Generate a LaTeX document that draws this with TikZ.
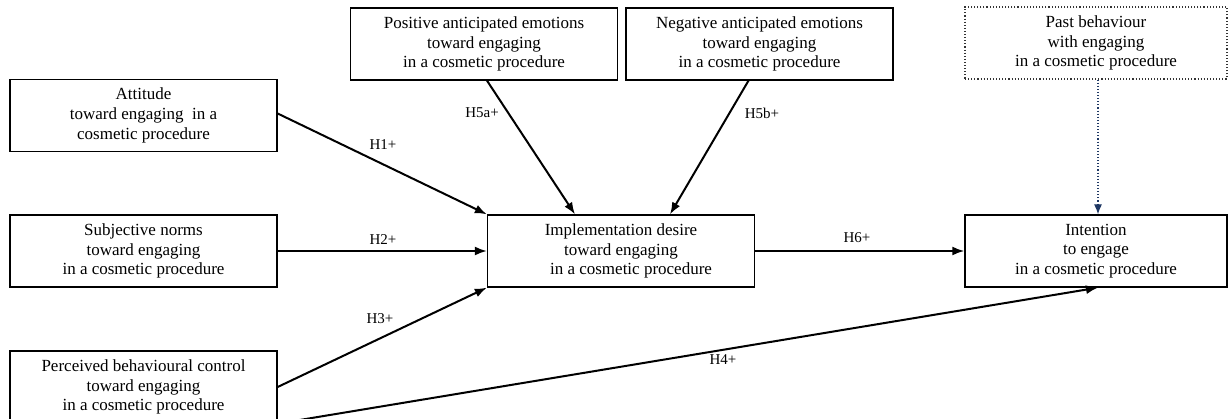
\documentclass[tikz,border=0pt]{standalone}
\usepackage{fontspec}
\setmainfont{Liberation Serif}
\usetikzlibrary{arrows.meta,calc}
\definecolor{pastblue}{HTML}{1F3864}
\begin{document}
\begin{tikzpicture}[x=1pt,y=-1pt,
  construct/.style={draw=black,line width=1.3pt,minimum width=267pt,minimum height=72pt,
    inner sep=0pt,align=center,font=\fontsize{17}{19.8}\selectfont},
  rightbox/.style={construct,minimum width=262pt},
  pastbox/.style={rightbox,draw=black!80,line width=1.1pt,dotted},
  path/.style={line width=2pt,-{Latex[length=12pt,width=9pt]}},
  hyp/.style={font=\fontsize{15}{16}\selectfont,inner sep=0pt}]
\useasboundingbox (0,0) rectangle (1229,419);
\clip (0,0) rectangle (1229,419);

% constructs
\node[construct] (att) at (143.5,115.5) {Attitude\\toward engaging\ \ in a\\cosmetic procedure};
\node[construct] (subj) at (143.5,251) {Subjective norms\\toward engaging\\in a cosmetic procedure};
\node[construct] (pbc) at (143.5,387) {Perceived behavioural control\\toward engaging\\in a cosmetic procedure};
\node[construct] (pos) at (484,44) {Positive anticipated emotions\\toward engaging\\in a cosmetic procedure};
\node[construct] (neg) at (759.5,44) {Negative anticipated emotions\\toward engaging\\in a cosmetic procedure};
\node[pastbox] (past) at (1096,43) {Past behaviour\\with engaging\\in a cosmetic procedure};
\node[construct] (imp) at (621,251) {Implementation desire\\toward engaging\\\hspace*{20pt}in a cosmetic procedure};
\node[rightbox] (int) at (1096,251) {Intention\\to engage\\in a cosmetic procedure};

% hypothesised paths
\draw[path] ($(att.east)+(0,-2)$) -- (imp.north west);
\draw[path] (subj.east) -- (imp.west);
\draw[path] (pbc.east) -- (imp.south west);
\draw[path] (pbc.south east) -- ($(int.south)+(2,0)$);
\draw[path] ($(pos.south)+(3,0)$) -- ($(imp.north)+(-46,0)$);
\draw[path] ($(neg.south)+(-11,0)$) -- ($(imp.north)+(49,0)$);
\draw[path] (imp.east) -- (int.west);
\draw[pastblue,line width=1.1pt,dotted,-{Latex[length=10pt,width=8pt]}] ($(past.south)+(2,0)$) -- ($(int.north)+(2,0)$);

% path labels
\node[hyp] (h1) at (383,145) {H1+};
\node[hyp] (h2) at (383,240) {H2+};
\node[hyp] (h3) at (380,319) {H3+};
\node[hyp] (h4) at (723,360) {H4+};
\node[hyp] (h5a) at (482,113) {H5a+};
\node[hyp] (h5b) at (762,113) {H5b+};
\node[hyp] (h6) at (857,238) {H6+};
\end{tikzpicture}
\end{document}
